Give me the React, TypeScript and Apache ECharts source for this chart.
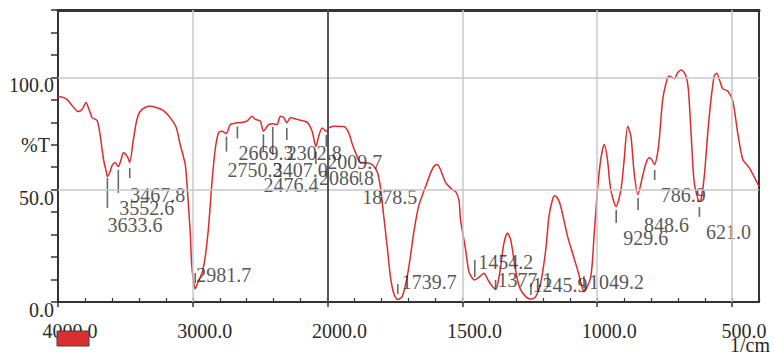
import React, { useEffect, useRef } from "react";
import * as echarts from "echarts";

// IR spectrum: [wavenumber (1/cm), transmittance (%T)]
const spectrumPoints: [number, number][] = [
  [4000, 91.5], [3963, 91.1], [3933, 90.2], [3896, 87.5], [3851, 84.8], [3822, 85.7], [3792, 88.8], [3770, 85.7],
  [3747, 82.1], [3710, 80.8], [3688, 74.6], [3673, 67.9], [3658, 62.1], [3640, 57.6], [3634, 55.8], [3614, 58.0],
  [3599, 60.7], [3577, 62.1], [3553, 60.3], [3532, 63.4], [3515, 66.5], [3485, 64.7], [3468, 62.1], [3441, 72.3],
  [3415, 81.2], [3391, 84.8], [3354, 86.6], [3316, 87.1], [3272, 86.6], [3220, 85.3], [3168, 82.1], [3123, 77.7],
  [3094, 70.1], [3056, 61.2], [3042, 51.3], [3019, 30.8], [3007, 15.6], [2982, 5.8], [2970, 7.6], [2932, 12.9],
  [2908, 20.1], [2883, 33.5], [2858, 53.1], [2834, 67.9], [2809, 75.4], [2784, 76.0], [2751, 75.0], [2722, 79.0],
  [2672, 79.8], [2640, 79.9], [2598, 80.5], [2561, 82.7], [2536, 81.3], [2499, 80.5], [2476, 76.0], [2438, 79.0],
  [2407, 79.4], [2375, 79.0], [2351, 82.7], [2326, 82.1], [2303, 79.8], [2276, 82.0], [2227, 81.3], [2152, 80.0],
  [2115, 76.0], [2087, 69.2], [2066, 73.8], [2041, 77.5], [2010, 76.0], [1996, 77.5], [1977, 78.3], [1940, 78.1],
  [1922, 75.4], [1908, 70.1], [1893, 65.6], [1878, 61.9], [1853, 61.9], [1835, 61.2], [1816, 58.0], [1804, 50.9],
  [1792, 38.4], [1779, 24.6], [1767, 11.2], [1754, 3.6], [1740, 1.1], [1723, 2.5], [1705, 11.2], [1692, 21.0],
  [1680, 31.3], [1662, 42.9], [1637, 51.3], [1618, 57.5], [1606, 60.3], [1593, 61.2], [1581, 58.9], [1562, 53.1],
  [1537, 50.0], [1525, 49.1], [1513, 45.5], [1507, 36.6], [1488, 23.2], [1476, 13.5], [1463, 10.6], [1454, 9.8],
  [1439, 11.0], [1420, 12.8], [1402, 9.1], [1377, 5.7], [1370, 7.6], [1358, 15.8], [1346, 26.2], [1333, 30.7],
  [1321, 27.7], [1309, 18.8], [1296, 9.8], [1284, 5.4], [1265, 2.4], [1246, 1.2], [1228, 2.4], [1210, 8.3],
  [1191, 23.2], [1179, 38.1], [1166, 45.5], [1158, 47.3], [1146, 46.0], [1135, 42.4], [1110, 29.2], [1092, 21.9],
  [1073, 14.3], [1055, 6.1], [1049, 4.6], [1024, 11.2], [1012, 29.0], [999, 50.0], [987, 63.4], [974, 70.1],
  [962, 63.4], [950, 50.0], [930, 42.5], [912, 50.0], [900, 63.4], [887, 78.3], [875, 73.8], [863, 57.5],
  [849, 47.8], [832, 55.9], [819, 61.9], [807, 64.2], [798, 63.4], [787, 61.2], [776, 66.4], [770, 72.3],
  [757, 90.2], [741, 99.1], [733, 100.6], [714, 99.4], [702, 102.1], [687, 103.3], [671, 100.6], [662, 94.6],
  [652, 75.3], [640, 53.0], [621, 44.8], [615, 45.5], [603, 55.9], [590, 75.3], [578, 90.2], [566, 100.6],
  [557, 101.8], [547, 99.1], [535, 95.0], [516, 93.9], [497, 89.4], [479, 75.3], [460, 63.4], [436, 59.7],
  [400, 51.5],
];

// Labelled peaks (1/cm)
const peakWavenumbers = [
  3633.6, 3552.6, 3467.8, 2981.7, 2750.3, 2669.3, 2476.4, 2407.0, 2302.8, 2086.8, 2009.7,
  1878.5, 1739.7, 1454.2, 1377.1, 1245.9, 1049.2, 929.6, 848.6, 786.9, 621.0,
];

// Layout of the peak markers (not data): marker centre in %T, marker length px, label offset px
const peakMarkCenter = [48.5, 53.7, 57.4, 10.7, 70.3, 75.5, 70.8, 71.7, 74.8, 64.1, 71.7, 55.7, 5.8, 14.9, 7.6, 5.8, 8.9, 38.1, 43.6, 56.5, 40.1];
const peakMarkLength = [30, 23, 10, 10, 15, 12, 17, 28, 12, 12, 12, 10, 10, 17, 10, 12, 12, 13, 12, 10, 10];
const peakLabelOffset: [number, number][] = [
  [0, 32], [1, 26.5], [0.5, 22], [1, -3], [1, 26], [1, 21], [0, 42], [0, 29], [0, 19], [3, 20], [1, 21],
  [2, 20], [4, -7], [3.5, -7], [2, -5], [1.5, -4], [5, 0], [7, 22], [6, 21], [6, 20], [6.5, 20],
];

const xTickWavenumbers = [4000, 3000, 2000, 1500, 1000, 500];
const xGridWavenumbers = [3000, 1500, 1000, 500];
const yLabels: Record<number, string> = { 0: "0.0", 50: "50.0", 100: "100.0" };
const yUnitLabel = "%T";
const yUnitAt = 70;
const yGridValues = [50, 100];

// The instrument plots 4000-2000 at half scale, 2000-400 at full scale
const toAxis = (w: number) => (w >= 2000 ? (4000 - w) / 2 : 1000 + (2000 - w));
const fromAxis = (u: number) => (u <= 1000 ? 4000 - 2 * u : 3000 - u);

const FONT = "'Liberation Serif', 'DejaVu Serif', serif";
const TEXT = "#2a2a2a";

export default function App() {
  const ref = useRef<HTMLDivElement>(null);
  useEffect(() => {
    const chart = echarts.init(ref.current!, undefined, { renderer: "svg" });
    const tickSet = new Set(xTickWavenumbers.map((w) => Math.round(toAxis(w))));
    const option: any = {
      animation: false,
      grid: { left: 58, right: 15, top: 10, bottom: 54, containLabel: false },
      xAxis: [
        {
          type: "value", position: "bottom", min: 0, max: 2600, interval: 500,
          axisLine: { show: true, lineStyle: { color: "#333", width: 2 } },
          axisTick: { show: true, inside: false, length: 5, lineStyle: { color: "#333", width: 1.5 } },
          splitLine: { show: false },
          axisLabel: {
            show: true, margin: 19, fontSize: 20, fontFamily: FONT, color: TEXT, padding: [0, 0, 0, 24],
            showMaxLabel: false,
            formatter: (v: number) => (tickSet.has(Math.round(v)) ? fromAxis(v).toFixed(1) : ""),
          },
        },
        {
          type: "value", position: "top", min: 0, max: 2600,
          axisLine: { show: true, onZero: false, lineStyle: { color: "#333", width: 3 } },
          axisTick: { show: false }, axisLabel: { show: false }, splitLine: { show: false },
        },
        {
          type: "value", position: "bottom", min: 0, max: 2600, interval: 100,
          axisLine: { show: false },
          axisTick: { show: true, inside: true, length: 4, lineStyle: { color: "#333", width: 1.2 } },
          axisLabel: { show: false }, splitLine: { show: false },
        },
      ],
      yAxis: [
        {
          type: "value", position: "left", min: 0, max: 130, interval: 10,
          axisLine: { show: true, lineStyle: { color: "#333", width: 2 } },
          axisTick: { show: true, inside: false, length: 7, lineStyle: { color: "#333", width: 1.5 } },
          splitLine: { show: false },
          axisLabel: {
            show: true, margin: 4, fontSize: 20, fontFamily: FONT, color: TEXT,
            showMaxLabel: true,
            formatter: (v: number) => {
              if (yLabels[v] !== undefined) return "{n|" + yLabels[v] + "}";
              if (v === yUnitAt) return "{t|" + yUnitLabel + "}";
              return "";
            },
            rich: {
              n: { fontSize: 20, fontFamily: FONT, color: TEXT, padding: [16, 0, 0, 0] },
              t: { fontSize: 20, fontFamily: FONT, color: TEXT, padding: [0, 4, 0, 0] },
            },
          },
        },
        {
          type: "value", position: "right", min: 0, max: 130,
          axisLine: { show: true, onZero: false, lineStyle: { color: "#333", width: 2 } },
          axisTick: { show: false }, axisLabel: { show: false }, splitLine: { show: false },
        },
      ],
      series: [
        {
          type: "line", name: "grid", xAxisIndex: 0, yAxisIndex: 0, data: [], z: 1, silent: true,
          markLine: {
            silent: true, symbol: "none", animation: false,
            label: { show: false },
            lineStyle: { color: "#c5c7cd", width: 1.5, type: "solid" },
            data: [
              ...xGridWavenumbers.map((w) => ({ xAxis: toAxis(w) })),
              ...yGridValues.map((v) => ({ yAxis: v })),
              { xAxis: toAxis(2000), lineStyle: { color: "#555", width: 2, type: "solid" } },
            ],
          },
        },
        {
          type: "line", name: "spectrum", xAxisIndex: 0, yAxisIndex: 0, z: 3, silent: true,
          showSymbol: false, smooth: 0.25,
          lineStyle: { color: "#dd2c2c", width: 1.5 },
          data: spectrumPoints.map(([w, t]) => [toAxis(w), t]),
        },
        {
          type: "scatter", name: "peaks", xAxisIndex: 0, yAxisIndex: 0, z: 4, silent: true,
          symbol: "rect",
          itemStyle: { color: "#444" },
          label: {
            show: true, fontSize: 20, fontFamily: FONT, color: TEXT, align: "left", verticalAlign: "middle",
            formatter: (p: any) => peakWavenumbers[p.dataIndex].toFixed(1),
          },
          data: peakWavenumbers.map((w, i) => ({
            value: [toAxis(w), peakMarkCenter[i]],
            symbolSize: [1.6, peakMarkLength[i]],
            label: { position: [peakLabelOffset[i][0] + 0.8, peakLabelOffset[i][1] + peakMarkLength[i] / 2] },
          })),
        },
      ],
      graphic: [
        {
          type: "rect", z: 100, shape: { x: 57, y: 331, width: 32, height: 15 },
          style: { fill: "#d92f2f", stroke: "#444", lineWidth: 1 },
        },
        {
          type: "text", z: 100, x: 770, y: 345,
          style: { text: "1/cm", fontSize: 20, fontFamily: FONT, fill: TEXT, align: "right", verticalAlign: "middle" },
        },
      ],
    };
    chart.setOption(option);
    return () => chart.dispose();
  }, []);
  return (
    <div
      ref={ref}
      style={{ position: "fixed", left: 0, top: 0, width: 774, height: 356, background: "#fff" }}
    />
  );
}
